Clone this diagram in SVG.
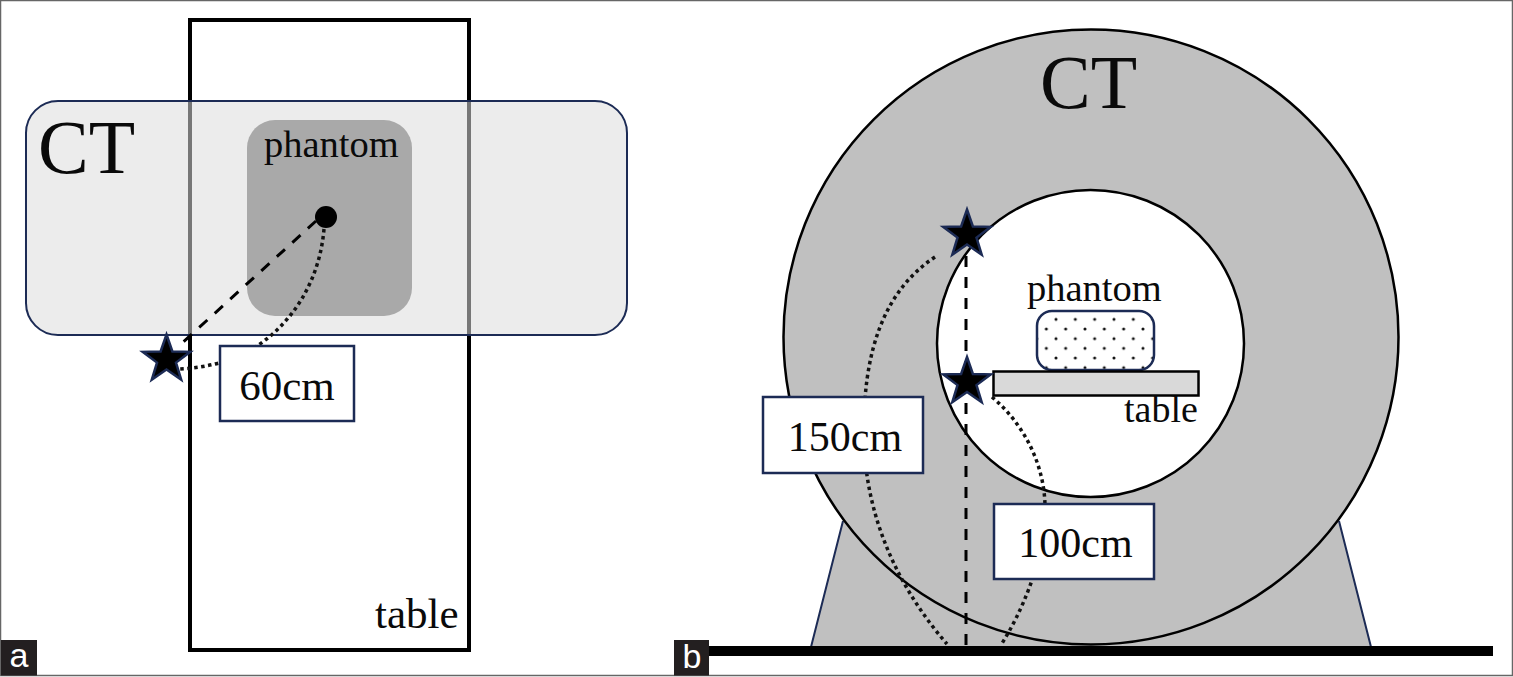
<svg xmlns="http://www.w3.org/2000/svg" xmlns:xlink="http://www.w3.org/1999/xlink" width="1513" height="677" viewBox="0 0 1513 677">
<style>
.t{font-family:"Liberation Serif","Times New Roman",serif;fill:#0a0a0a}
.lab{fill:#fff;stroke:#1c2b55;stroke-width:2.5}
.dash{fill:none;stroke:#000;stroke-width:3;stroke-dasharray:11 10}
.dot{fill:none;stroke:#111;stroke-width:3.5;stroke-dasharray:3.5 3.5}
.tag{fill:#231f20}
.tagt{font-family:"Liberation Sans",Arial,sans-serif;font-size:34px;fill:#fff;text-anchor:middle}
</style>
<defs>
<polygon id="star" points="0,-25 5.900,-8.100 23.800,-7.700 9.500,3.100 14.700,20.200 0,10 -14.700,20.200 -9.500,3.100 -23.800,-7.700 -5.900,-8.100" fill="#000" stroke="#1c2b55" stroke-width="2.5"/>
<pattern id="dots" patternUnits="userSpaceOnUse" x="1041.5" y="314.5" width="19.33" height="19.33">
<circle cx="14.5" cy="4.83" r="1.5" fill="#111"/>
<circle cx="4.83" cy="14.5" r="1.5" fill="#111"/>
</pattern>
</defs>
<rect x="0.5" y="0.5" width="1512" height="675" fill="#fff" stroke="#666" stroke-width="1.5"/>

<g id="table-a"><rect x="190" y="20" width="279" height="630" fill="none" stroke="#000" stroke-width="4"/>
<text class="t" x="375" y="628" font-size="43">table</text></g>
<g id="ct-a"><rect x="26" y="101" width="601" height="234" rx="32" fill="#dcdcdc" fill-opacity="0.54" stroke="#1c2b55" stroke-width="2"/>
<text class="t" x="38" y="173" font-size="76">CT</text></g>
<g id="phantom-a"><rect x="247" y="120" width="165" height="196" rx="28" fill="#a9a9a9"/>
<text class="t" x="264" y="157" font-size="38.500">phantom</text></g>
<g id="point-a"><circle cx="326" cy="217" r="11" fill="#000"/></g>

<g id="gantry-b">
<path d="M811 647 L843 521 L1339 521 L1371 647 Z" fill="#c0c0c0"/>
<path d="M811 647 L843 521 M1371 647 L1339 521" fill="none" stroke="#1c2b55" stroke-width="2"/>
<circle cx="1091" cy="337" r="307.500" fill="#c0c0c0" stroke="#000" stroke-width="2.500"/>
<circle cx="1090.500" cy="343.500" r="153.500" fill="#fff" stroke="#000" stroke-width="2.500"/>
<text class="t" x="1040" y="108" font-size="76">CT</text>
</g>
<g id="phantom-b"><rect x="1037" y="311" width="117" height="59" rx="15" fill="#fff"/>
<rect x="1037" y="311" width="117" height="59" rx="15" fill="url(#dots)" stroke="#1c2b55" stroke-width="2.5"/>
<text class="t" x="1027" y="301" font-size="38.500">phantom</text></g>
<g id="table-b"><rect x="993.500" y="371.500" width="205" height="24" fill="#d9d9d9" stroke="#000" stroke-width="2.500"/>
<text class="t" x="1124" y="422" font-size="38">table</text></g>

<g id="connectors">
<path class="dash" d="M316 221 L181 344"/>
<path class="dot" d="M324 229 C318 300 270 350 219 363 Q200 368 180 369"/>
<path class="dash" d="M966 256 L966 646"/>
<path class="dot" d="M935 257 C885 290 862 350 864 440 C866 520 900 590 947 644"/>
<path class="dot" d="M992 397 C1025 425 1044 465 1045 505 C1046 560 1020 615 1001 645"/>
</g>

<g id="star-a"><use href="#star" x="166.500" y="359.500"/></g>
<g id="star-b1"><use href="#star" x="967" y="234.500"/></g>
<g id="star-b2"><use href="#star" x="967" y="382"/></g>

<g id="label-60"><rect class="lab" x="220" y="346" width="134" height="75"/>
<text class="t" x="287" y="400" font-size="43" text-anchor="middle">60cm</text></g>
<g id="label-150"><rect class="lab" x="763" y="397" width="160" height="76"/>
<text class="t" x="845" y="451" font-size="42" text-anchor="middle">150cm</text></g>
<g id="label-100"><rect class="lab" x="994" y="504" width="160" height="75"/>
<text class="t" x="1075.500" y="557" font-size="42" text-anchor="middle">100cm</text></g>

<g id="ground"><rect x="709" y="646" width="784" height="10" fill="#000"/></g>
<g id="tag-a"><rect class="tag" x="1" y="640" width="36" height="35.500"/><text class="tagt" x="19" y="667">a</text></g>
<g id="tag-b"><rect class="tag" x="674" y="640" width="35" height="35.500"/><text class="tagt" x="692" y="668">b</text></g>
</svg>
